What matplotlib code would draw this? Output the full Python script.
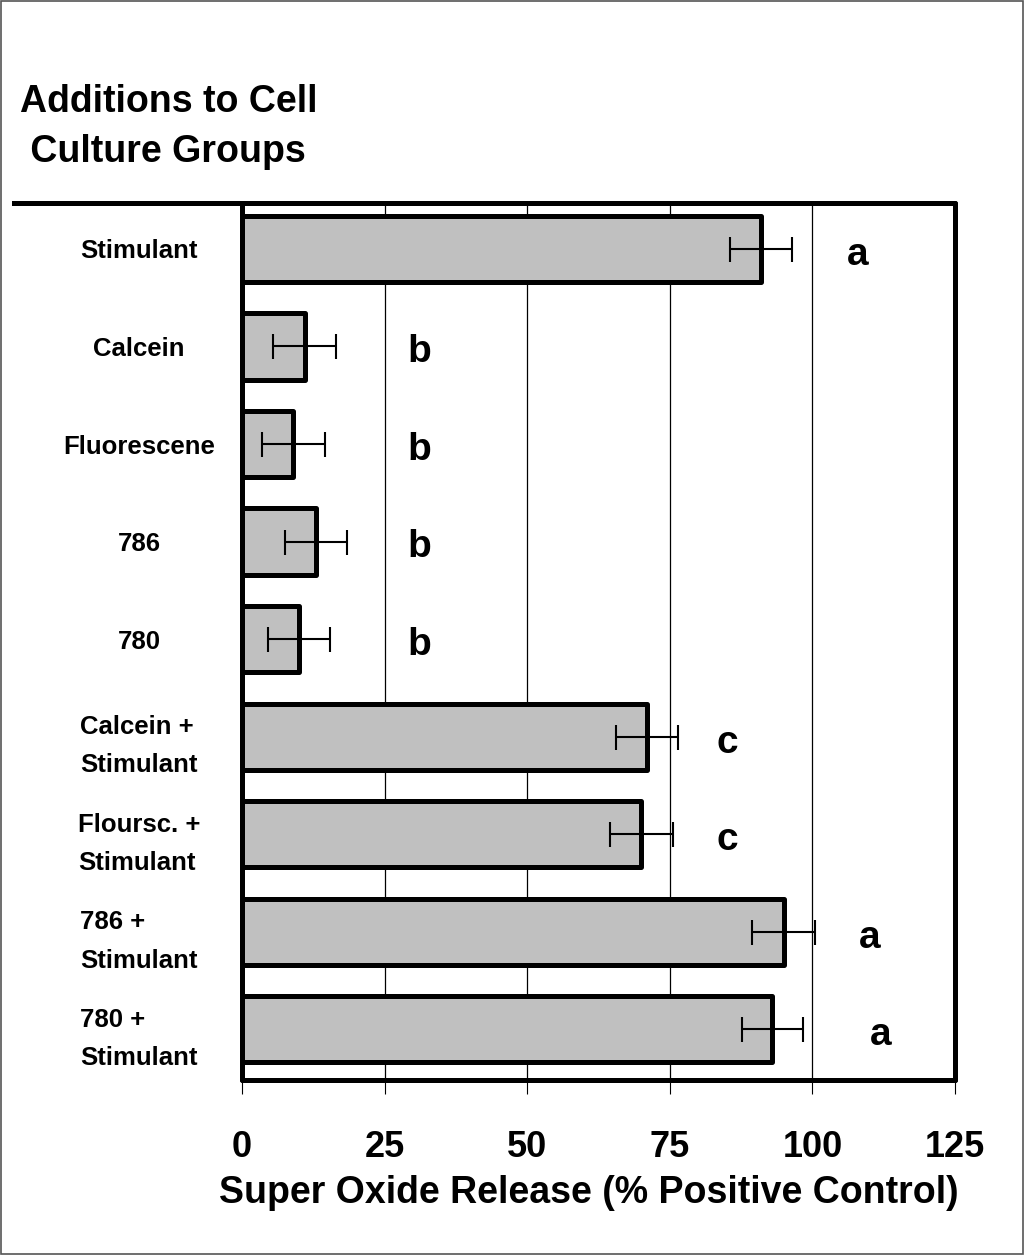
import matplotlib
matplotlib.use("Agg")
import matplotlib.pyplot as plt
from matplotlib.lines import Line2D
from matplotlib.patches import Rectangle

plt.rcParams["font.family"] = ["Liberation Sans", "DejaVu Sans"]
plt.rcParams["font.weight"] = "bold"

# Data
groups = ["Stimulant", "Calcein", "Fluorescene", "786", "780",
          "Calcein +\nStimulant", "Floursc. +\nStimulant",
          "786 +\nStimulant", "780 +\nStimulant"]
values = [91, 11, 9, 13, 10, 71, 70, 95, 93]
errors = [5.5, 5.5, 5.5, 5.5, 5.5, 5.5, 5.5, 5.5, 5.3]
letters = ["a", "b", "b", "b", "b", "c", "c", "a", "a"]
letter_x = [108, 31, 31, 31, 31, 85, 85, 110, 112]
xticks = [0, 25, 50, 75, 100, 125]

fig = plt.figure(figsize=(10.24, 12.55), dpi=100)
ax = fig.add_axes([0.2363, 0.1394, 0.6963, 0.6988])

pos = list(range(len(groups)))
ax.barh(pos, values, height=0.68, color="#c0c0c0", edgecolor="black",
        linewidth=3.6, joinstyle="round", zorder=3)
ax.errorbar(values, pos, xerr=errors, fmt="none", ecolor="black",
            elinewidth=1.5, capsize=9, capthick=1.5, zorder=4)

for p, lab, lx in zip(pos, letters, letter_x):
    ax.text(lx, p + 0.06, lab, ha="center", va="center", fontsize=28,
            fontweight="bold", zorder=5)

ax.set_xlim(0, 125)
ax.set_ylim(8.52, -0.47)
ax.set_xticks(xticks)
ax.set_xticklabels([str(t) for t in xticks], fontsize=26, fontweight="bold")
ax.set_yticks(pos)
ax.set_yticklabels(groups, fontsize=18.5, fontweight="bold", ha="center",
                   multialignment="left", linespacing=1.75)
ax.tick_params(axis="y", length=0, pad=74)
ax.tick_params(axis="x", direction="out", length=10, width=0.8, pad=26)
ax.xaxis.grid(True, color="black", linewidth=0.9, zorder=0)
ax.set_axisbelow(True)
for s in ax.spines.values():
    s.set_linewidth(3.6)
    s.set_capstyle("round")

ax.set_xlabel("Super Oxide Release (% Positive Control)", fontsize=27,
              fontweight="bold")
ax.xaxis.set_label_coords(0.486, -0.108)

# header line running left from the top of the axes
top = 0.1394 + 0.6988
fig.add_artist(Line2D([14 / 1024, 0.2363], [top, top], color="black",
                      linewidth=3.6, transform=fig.transFigure))
fig.text(20 / 1024, 1 - 127 / 1255, "Additions to Cell\n Culture Groups",
         fontsize=27, fontweight="bold", va="center", ha="left",
         linespacing=1.5)

fig.add_artist(Rectangle((0.001, 0.001), 0.998, 0.998, fill=False,
                         edgecolor="#555555", linewidth=1.2,
                         transform=fig.transFigure))

fig.savefig("out.png", dpi=100)
